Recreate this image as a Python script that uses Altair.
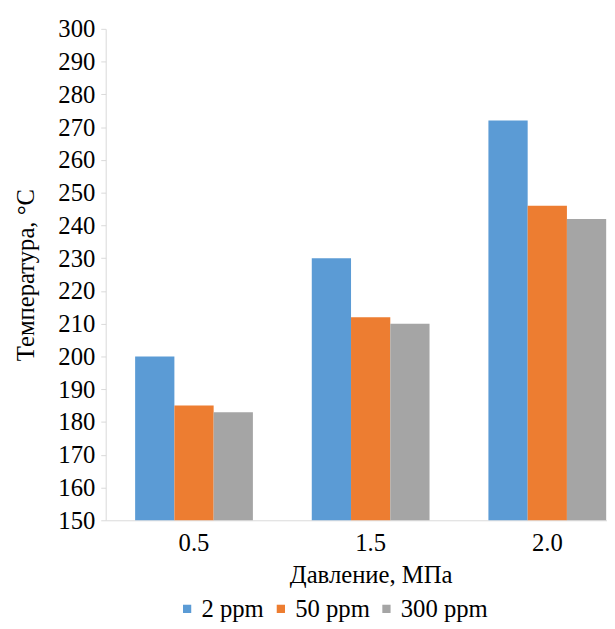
import altair as alt
import pandas as pd

pressures = ["0.5", "1.5", "2.0"]
series = ["2 ppm", "50 ppm", "300 ppm"]
v_2ppm = [200, 230, 272]
v_50ppm = [185, 212, 246]
v_300ppm = [183, 210, 242]
colors = ["#5B9BD5", "#ED7D31", "#A5A5A5"]
y_ticks = list(range(150, 301, 10))

rows = []
for s, vals in zip(series, [v_2ppm, v_50ppm, v_300ppm]):
    for p, v in zip(pressures, vals):
        rows.append({"p": p, "s": s, "v": v})
df = pd.DataFrame(rows)

FONT = "Liberation Serif"
FS = 25

chart = alt.Chart(df).mark_bar(clip=True).encode(
    x=alt.X("p:N", sort=pressures,
            scale=alt.Scale(range=[0, 537], paddingInner=1/3, paddingOuter=1/6),
            axis=alt.Axis(title="Давление, МПа", labelAngle=0, ticks=False,
                          domainColor="#d9d9d9", labelPadding=11, titlePadding=7,
                          labelFont=FONT, titleFont=FONT, labelFontSize=FS,
                          titleFontSize=FS, titleFontWeight="normal",
                          labelColor="#000", titleColor="#000")),
    xOffset=alt.XOffset("s:N", sort=series),
    y=alt.Y("v:Q", scale=alt.Scale(domain=[150, 300], nice=False, zero=False),
            axis=alt.Axis(title="Температура, °С", values=y_ticks, grid=False,
                          domainColor="#d9d9d9", tickColor="#d9d9d9", tickSize=5,
                          labelPadding=6, titlePadding=20,
                          labelFont=FONT, titleFont=FONT, labelFontSize=FS,
                          titleFontSize=FS, titleFontWeight="normal",
                          labelColor="#000", titleColor="#000")),
    color=alt.Color("s:N", sort=series,
                    scale=alt.Scale(domain=series, range=colors),
                    legend=alt.Legend(title=None, orient="none", direction="horizontal",
                                      legendX=70, legendY=575, symbolType="square",
                                      symbolSize=70, symbolStrokeWidth=0,
                                      labelFontSize=FS, labelFont=FONT, labelColor="#000",
                                      columnPadding=4, labelOffset=2)),
).properties(
    width=508, height=498,
    autosize=alt.AutoSizeParams(type="none"),
    padding={"left": 99, "top": 17, "right": 0, "bottom": 104},
).configure(
    font=FONT
).configure_view(
    stroke=None
)

chart.save("out.html", embed_options={"renderer": "svg", "actions": False})
